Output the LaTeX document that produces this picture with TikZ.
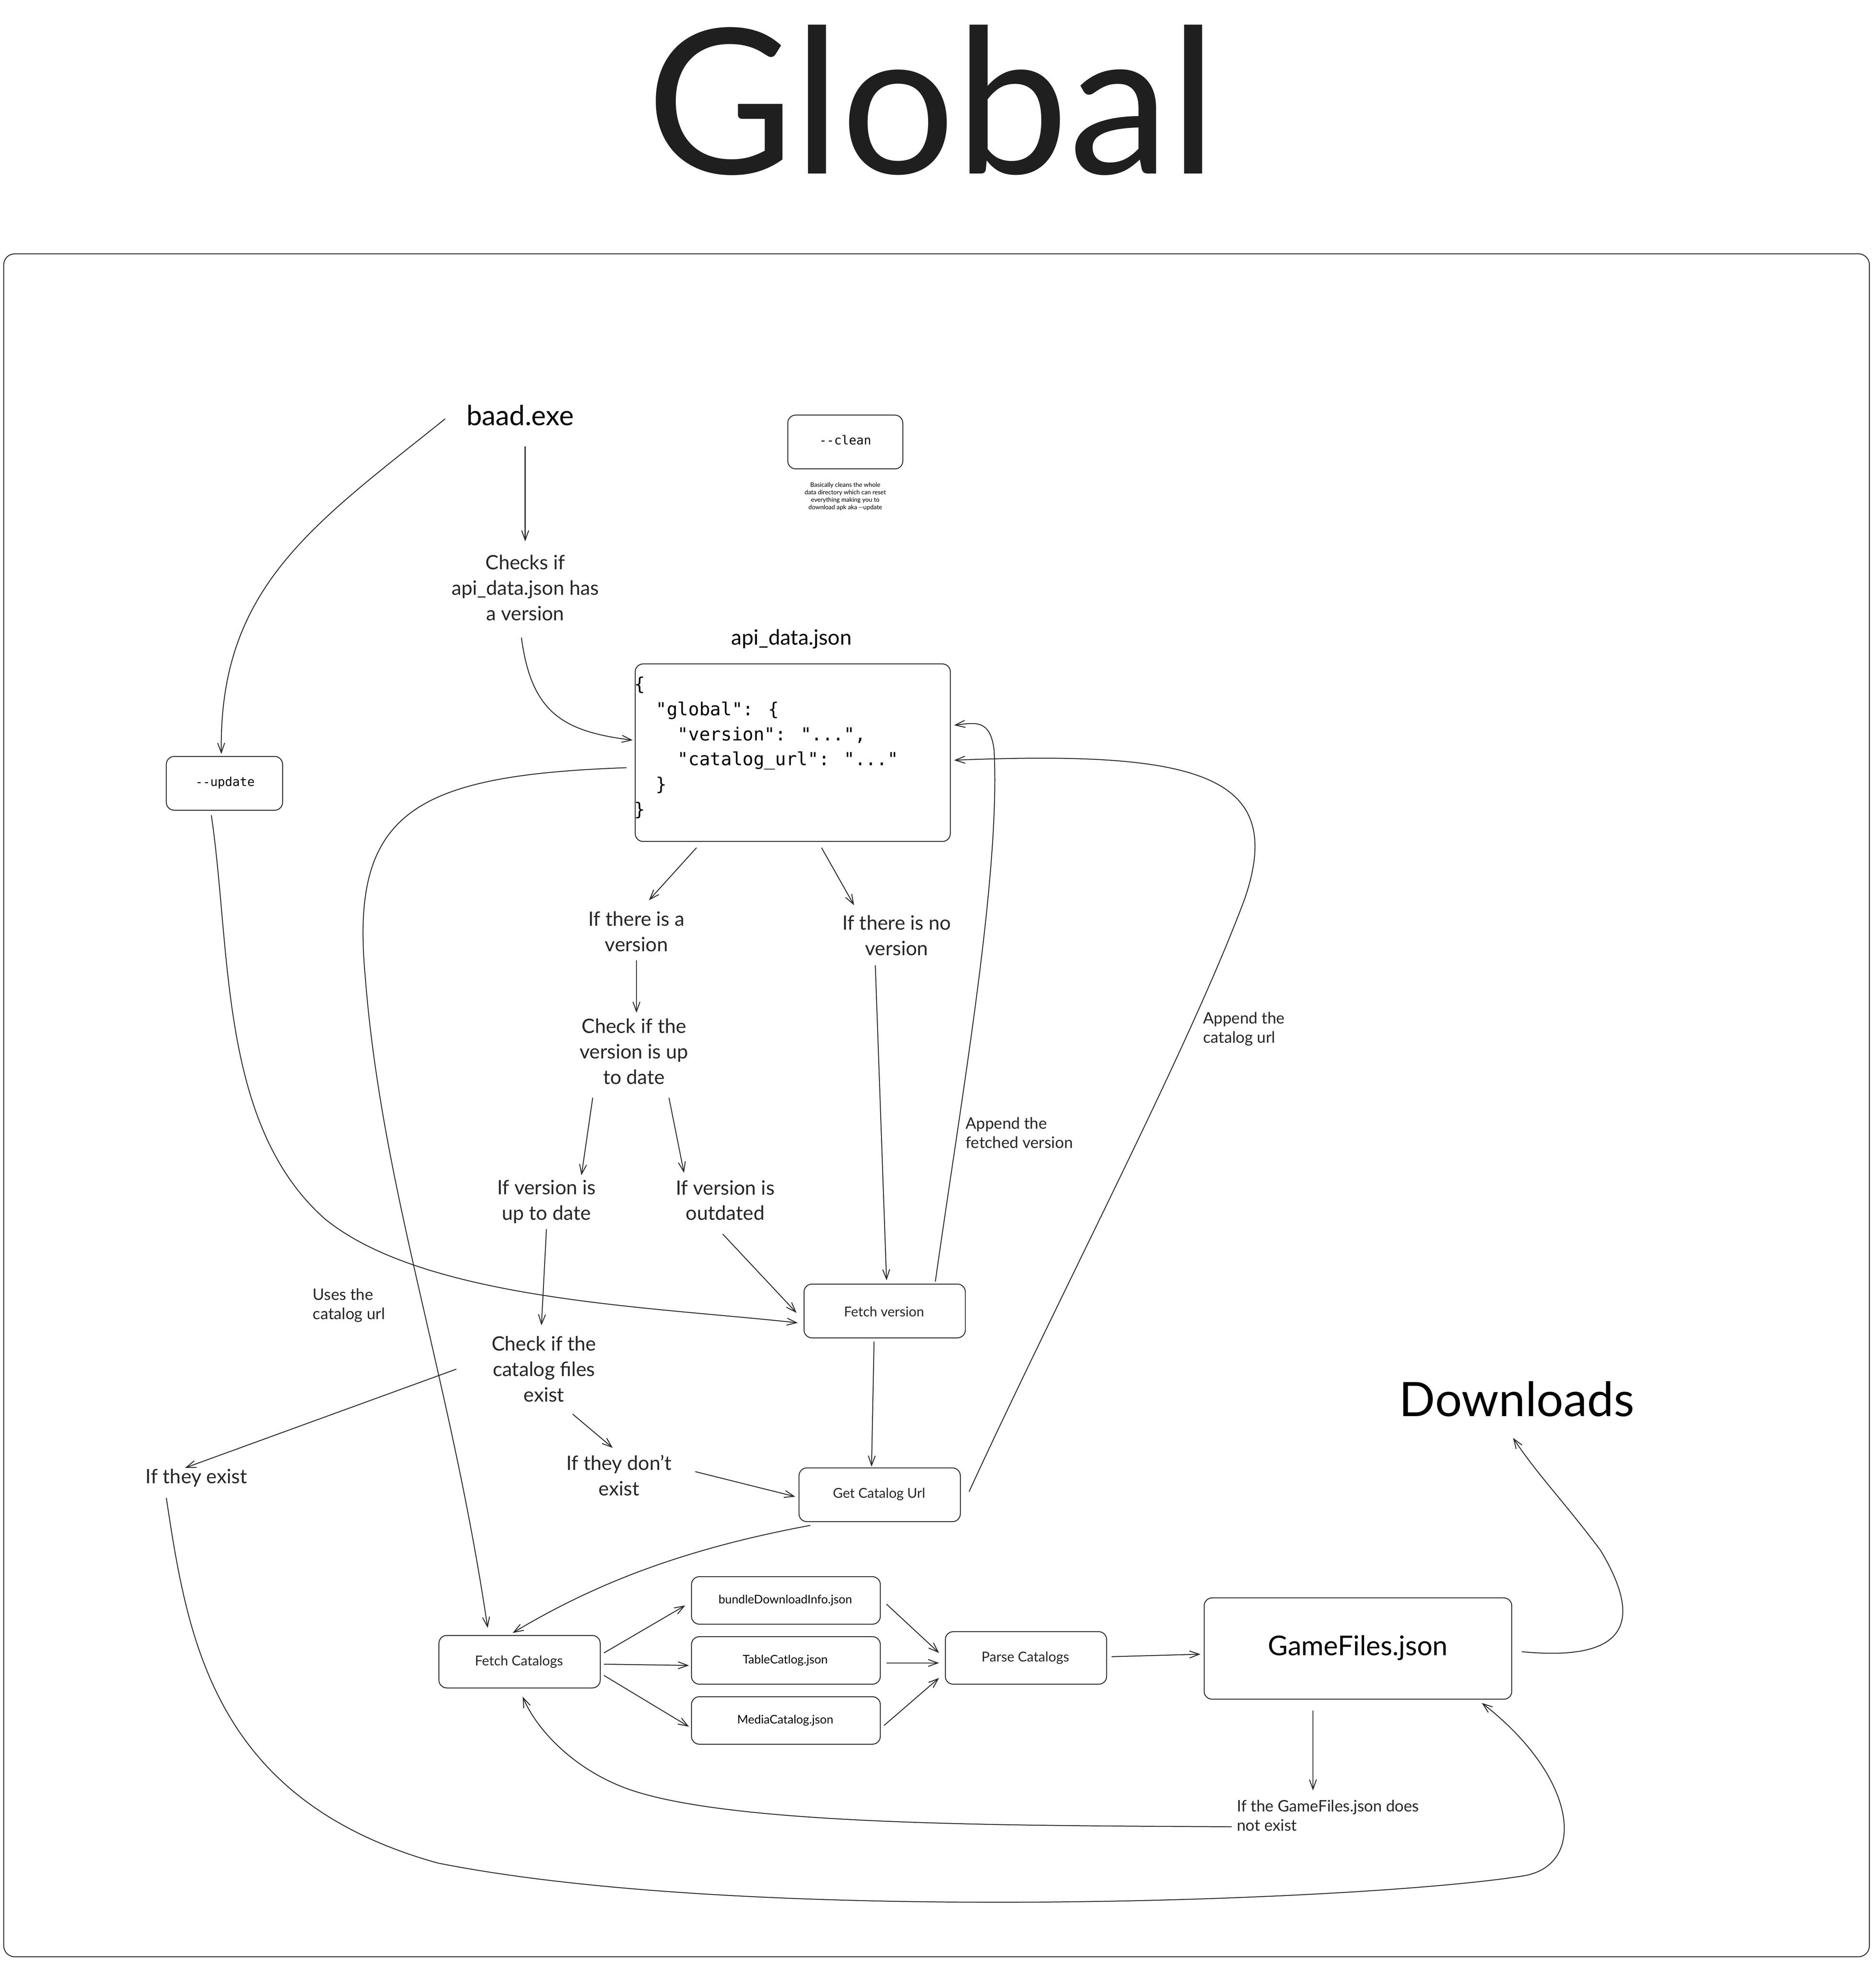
\documentclass[tikz,border=0pt]{standalone}
\usepackage{fontspec}
\setmainfont{Lato}
\newfontfamily\codefont{DejaVu Sans Mono}
\usetikzlibrary{arrows.meta}
\newcommand{\fs}[2]{\fontsize{#1pt}{#2pt}\selectfont}
\begin{document}
\begin{tikzpicture}[x=1mm,y=-1mm,
  ln/.style={line width=2pt,draw=black!85},
  arr/.style={ln,-{Straight Barb[length=22pt,width=16pt,line width=2pt]}},
  box/.style={ln,rounded corners=18pt,fill=white},
  txt/.style={align=center,font=\fs{45}{58},text=black!85},
  lbl/.style={align=left,anchor=west,font=\fs{36}{44},text=black!85},
  small/.style={font=\fs{31}{38},text=black!85}]
\useasboundingbox (0,0) rectangle (1500,1570);
\fill[white] (0,0) rectangle (1500,1570);
\node[font=\fs{460}{460},text=black!88] (title) at (745,80) {Global};
\draw[ln,rounded corners=25pt] (3,203) rectangle (1495,1565);
% nodes
\node[font=\fs{63}{70}] (baad) at (416,332) {baad.exe};
\draw[box] (630,332) rectangle (722,375);
\node[font=\codefont\fs{28}{34}] (clean) at (676,352) {-{}-clean};
\node[align=center,font=\fs{14}{17}] (note) at (676,397) {Basically cleans the whole\\data directory which can reset\\everything making you to\\download apk aka -{}-update};
\node[txt] (checks) at (420,470) {Checks if\\api\_data.json has\\a version};
\node[font=\fs{48}{56}] (apil) at (633,511) {api\_data.json};
\draw[box] (508,531) rectangle (760,673);
\node[anchor=north west,align=left,font=\codefont\fs{41}{57}] (code) at (506,540)
 {\{\\\ \ "global": \{\\\ \ \ \ "version": "...",\\\ \ \ \ "catalog\_url": "..."\\\ \ \}\\\}};
\draw[box] (133,605) rectangle (226,648);
\node[font=\codefont\fs{28}{34}] (upd) at (180,626) {-{}-update};
\node[txt] (ver) at (509,745) {If there is a\\version};
\node[txt] (nover) at (717,748) {If there is no\\version};
\node[txt] (chk) at (507,841) {Check if the\\version is up\\to date};
\node[txt] (utd) at (437,961) {If version is\\up to date};
\node[txt] (outd) at (580,960) {If version is\\outdated};
\node[lbl] (uses) at (249,1044) {Uses the\\catalog url};
\draw[box] (643,1027) rectangle (772,1070);
\node[small] (fv) at (707,1049) {Fetch version};
\node[txt] (chkc) at (435,1095) {Check if the\\catalog files\\exist};
\node[txt] (exist) at (157,1182) {If they exist};
\node[txt] (nexist) at (495,1180) {If they don't\\exist};
\draw[box] (639,1174) rectangle (768,1217);
\node[small] (gcu) at (703,1195) {Get Catalog Url};
\node[font=\fs{108}{115}] (dl) at (1213,1119) {Downloads};
\node[lbl] (appv) at (771,906) {Append the\\fetched version};
\node[lbl] (appc) at (961,823) {Append the\\catalog url};
\draw[box] (553,1261) rectangle (704,1299);
\node[font=\fs{27}{32}] (b1) at (628,1280) {bundleDownloadInfo.json};
\draw[box] (553,1309) rectangle (704,1347);
\node[font=\fs{27}{32}] (b2) at (628,1328) {TableCatlog.json};
\draw[box] (553,1357) rectangle (704,1395);
\node[font=\fs{27}{32}] (b3) at (628,1376) {MediaCatalog.json};
\draw[box] (351,1308) rectangle (480,1350);
\node[small] (fc) at (415,1329) {Fetch Catalogs};
\draw[box] (756,1305) rectangle (885,1347);
\node[small] (pc) at (820,1326) {Parse Catalogs};
\draw[box] (963,1278) rectangle (1209,1359);
\node[font=\fs{62}{70}] (gf) at (1086,1318) {GameFiles.json};
\node[lbl] (gfne) at (988,1452) {If the GameFiles.json does\\not exist};
% connectors
\draw[arr] (356,335) .. controls (250,420) and (175,470) .. (177,603);
\draw[arr] (420,357) -- (420,433);
\draw[arr] (417,510) .. controls (425,570) and (450,585) .. (506,592);
\draw[arr] (501,614) .. controls (330,620) and (280,650) .. (292,780) .. controls (305,950) and (360,1100) .. (390,1302);
\draw[arr] (557,678) -- (519,720);
\draw[arr] (657,678) -- (683,724);
\draw[arr] (509,768) -- (509,810);
\draw[arr] (474,878) -- (465,940);
\draw[arr] (535,878) -- (547,938);
\draw[arr] (437,983) -- (433,1060);
\draw[arr] (578,987) -- (637,1050);
\draw[arr] (169,652) .. controls (185,760) and (175,900) .. (260,975) .. controls (340,1040) and (520,1045) .. (638,1058);
\draw[arr] (700,772) -- (709,1024);
\draw[arr] (748,1025) .. controls (770,870) and (800,700) .. (795,600) .. controls (792,575) and (780,578) .. (763,580);
\draw[arr] (699,1073) -- (697,1173);
\draw[arr] (775,1193) .. controls (850,1030) and (950,840) .. (995,720) .. controls (1030,620) and (960,600) .. (763,608);
\draw[arr] (365,1095) -- (148,1174);
\draw[arr] (458,1131) -- (490,1158);
\draw[arr] (556,1177) -- (636,1197);
\draw[arr] (648,1220) .. controls (540,1240) and (470,1270) .. (410,1306);
\draw[arr] (483,1322) -- (548,1284);
\draw[arr] (483,1331) -- (551,1332);
\draw[arr] (483,1340) -- (551,1381);
\draw[arr] (709,1283) -- (751,1322);
\draw[arr] (709,1330) -- (751,1330);
\draw[arr] (707,1380) -- (751,1342);
\draw[arr] (889,1325) -- (960,1323);
\draw[arr] (1217,1321) .. controls (1310,1330) and (1310,1290) .. (1280,1240) .. controls (1250,1200) and (1230,1180) .. (1210,1150);
\draw[arr] (1050,1368) -- (1050,1432);
\draw[arr] (985,1461) .. controls (800,1460) and (580,1460) .. (500,1430) .. controls (460,1415) and (430,1385) .. (418,1357);
\draw[arr] (133,1198) .. controls (150,1310) and (170,1440) .. (350,1490) .. controls (600,1540) and (1100,1520) .. (1220,1500) .. controls (1270,1490) and (1260,1420) .. (1185,1362);
\end{tikzpicture}
\end{document}
